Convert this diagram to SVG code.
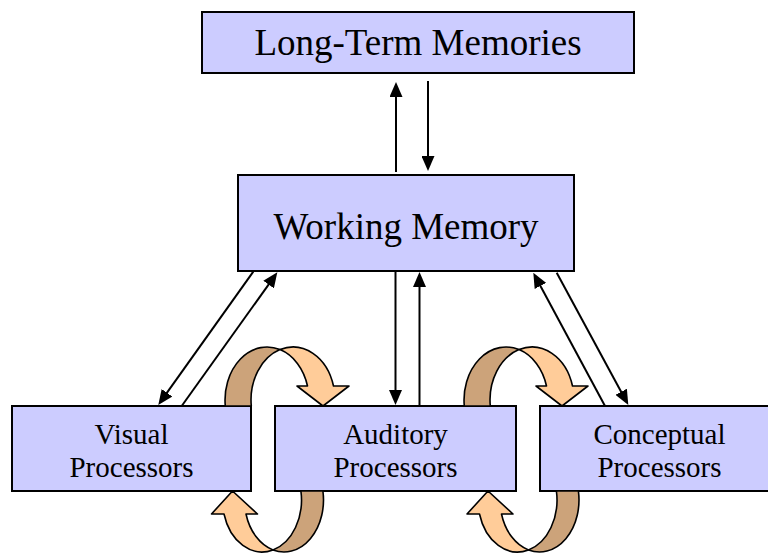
<svg xmlns="http://www.w3.org/2000/svg" width="768" height="554" viewBox="0 0 768 554">
<style>
.box{fill:#ccccff;stroke:#000;stroke-width:2}
.t{font-family:"Liberation Serif","Times New Roman",serif;fill:#000;text-anchor:middle}
.big{font-size:37px}
.small{font-size:29px}
.ln{stroke:#000;stroke-width:2;fill:none;marker-end:url(#ah)}
.back{fill:#cca37a;stroke:#000;stroke-width:1.6;stroke-linejoin:round}
.front{fill:#ffcc99;stroke:#000;stroke-width:1.6;stroke-linejoin:round}
</style>
<defs>
<marker id="ah" viewBox="0 0 15 13" refX="11" refY="6.5" markerWidth="15" markerHeight="13" orient="auto" markerUnits="userSpaceOnUse">
<path d="M0,0 L15,6.5 L0,13 Z" fill="#000"/>
</marker>
<g id="cupTop">
<path class="back" d="M225.3,406 A42,53 0 0 1 280,349.6 A42,53 0 0 0 251.3,406 Z"/>
<path class="front" d="M280,349.6 A42,53 0 0 1 333.5,386 L349,386 L323,406 L297,386 L307.5,386 A42,53 0 0 0 280,349.6 Z"/>
</g>
<g id="cupBot">
<path class="back" d="M322.9,491 A39.5,52 0 0 1 273,549.9 A39.5,52 0 0 0 300.9,491 Z"/>
<path class="front" d="M273,549.9 A39.5,52 0 0 1 224,514 L211.5,514 L232.5,491 L257.5,514 L246,514 A39.5,52 0 0 0 273,549.9 Z"/>
</g>
</defs>
<rect width="768" height="554" fill="#fff"/>

<g id="ltm">
<rect class="box" x="202" y="12" width="432" height="61"/>
<text class="t big" x="418" y="55">Long-Term Memories</text>
</g>
<g id="wm">
<rect class="box" x="238" y="175" width="336" height="96"/>
<text class="t big" x="406" y="239">Working Memory</text>
</g>
<g id="visual">
<rect class="box" x="12" y="406" width="239" height="85"/>
<text class="t small" x="131.5" y="444">Visual</text>
<text class="t small" x="131.5" y="477">Processors</text>
</g>
<g id="auditory">
<rect class="box" x="275" y="406" width="241" height="85"/>
<text class="t small" x="395.5" y="444">Auditory</text>
<text class="t small" x="395.5" y="477">Processors</text>
</g>
<g id="conceptual">
<rect class="box" x="540" y="406" width="239" height="85"/>
<text class="t small" x="659.5" y="444">Conceptual</text>
<text class="t small" x="659.5" y="477">Processors</text>
</g>

<g id="connectors">
<line class="ln" x1="396" y1="172" x2="396" y2="86"/>
<line class="ln" x1="428" y1="81" x2="428" y2="167"/>
<line class="ln" x1="395.5" y1="272" x2="395.5" y2="401"/>
<line class="ln" x1="419.5" y1="406" x2="419.5" y2="276"/>
<line class="ln" x1="253.3" y1="271.7" x2="160.6" y2="401.7"/>
<line class="ln" x1="181.7" y1="406" x2="275" y2="275.6"/>
<line class="ln" x1="605" y1="406" x2="535.2" y2="276.2"/>
<line class="ln" x1="556.7" y1="272.7" x2="626.4" y2="401.5"/>
<use href="#cupTop"/>
<use href="#cupTop" transform="translate(239,0)"/>
<use href="#cupBot"/>
<use href="#cupBot" transform="translate(255.5,0)"/>
</g>
</svg>
